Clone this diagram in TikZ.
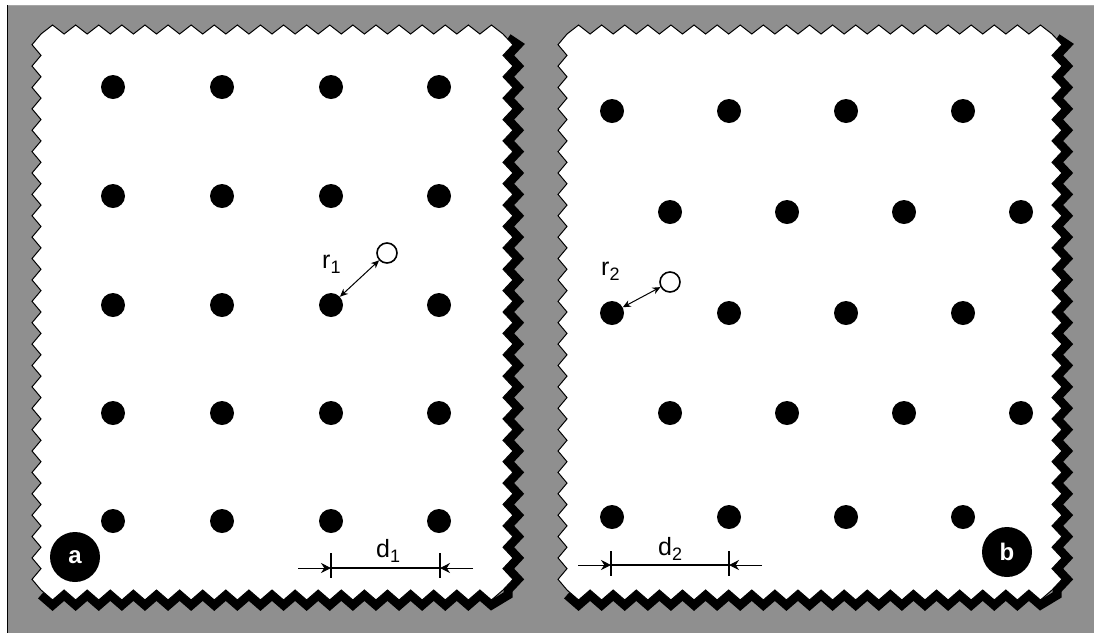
\documentclass[tikz,border=0pt]{standalone}
\usepackage{fontspec}
\setmainfont{Liberation Sans}
\usetikzlibrary{arrows.meta}
\tikzset{
  zigrect/.style n args={6}{insert path={
    (#1,#2)
    \foreach \i in {1,...,#5} { -- ({#1+(\i-0.5)*(#3-#1)/#5},{#2-9}) -- ({#1+\i*(#3-#1)/#5},#2) }
    \foreach \i in {1,...,#6} { -- ({#3+10},{#2+(\i-0.5)*(#4-#2)/#6}) -- (#3,{#2+\i*(#4-#2)/#6}) }
    \foreach \i in {1,...,#5} { -- ({#3-(\i-0.5)*(#3-#1)/#5},{#4+10}) -- ({#3-\i*(#3-#1)/#5},#4) }
    \foreach \i in {1,...,#6} { -- ({#1-9},{#4-(\i-0.5)*(#4-#2)/#6}) -- (#1,{#4-\i*(#4-#2)/#6}) }
    -- cycle}},
  zigshadow/.style n args={6}{insert path={
    ({#3+5},{#2+4})
    \foreach \i in {1,...,#6} { -- ({#3+15},{#2+(\i-0.5)*(#4-#2)/#6}) -- ({#3+5},{#2+\i*(#4-#2)/#6}) }
    -- ({#3+5},{#4+5})
    \foreach \i in {1,...,#5} { -- ({#3-(\i-0.5)*(#3-#1)/#5},{#4+15}) -- ({#3-\i*(#3-#1)/#5},{#4+5}) }
    }},
  shadowline/.style={draw=black, line width=9pt, line join=miter, miter limit=10},
  dot/.style={circle, fill=black, inner sep=0pt, minimum size=24pt},
  hole/.style={circle, draw=black, line width=1.6pt, fill=white, inner sep=0pt, minimum size=20pt},
  tag/.style={circle, fill=black, inner sep=0pt, minimum size=50pt, text=white, font=\fontsize{24}{24}\selectfont\bfseries},
  lbl/.style={inner sep=0pt, anchor=base west, font=\fontsize{25}{25}\selectfont},
  rarrow/.style={{Stealth[length=8pt,width=7pt]}-{Stealth[length=8pt,width=7pt]}, line width=1pt},
  darrow/.style={-{Stealth[length=10pt,width=10pt]}, line width=1pt},
  dimline/.style={line width=1.2pt},
}
\newcommand{\subs}[1]{\raisebox{-5pt}{\fontsize{18}{18}\selectfont #1}}
\begin{document}
\begin{tikzpicture}[x=1pt,y=-1pt]
\useasboundingbox (0,0) rectangle (1094,633);
% background
\fill[black!44] (7,5) rectangle (1094,633);
\draw[black!35, line width=1pt] (7,5.5) -- (1094,5.5);
\draw[black, line width=1.5pt] (7.5,5) -- (7.5,633);
% panel a
\path[shadowline, zigshadow={41}{34}{503}{590}{20}{26}];
\filldraw[fill=white, draw=black, line width=1pt, zigrect={41}{34}{503}{590}{20}{26}];
% panel b
\path[shadowline, zigshadow={567}{34}{1052}{590}{21}{26}];
\filldraw[fill=white, draw=black, line width=1pt, zigrect={567}{34}{1052}{590}{21}{26}];

% dots panel a
\foreach \c/\x in {1/113,2/222,3/331,4/439}
  \foreach \r/\y in {1/87,2/196,3/305,4/413,5/521}
    \node[dot] (a\r\c) at (\x,\y) {};
% dots panel b
\foreach \r/\y/\o in {1/111/0,2/212/1,3/313/0,4/413/1,5/517/0}
  \foreach \c/\x in {1/612,2/729,3/846,4/963}
    \node[dot] (b\r\c) at ({\x+\o*58},\y) {};

% interstitial holes
\node[hole] (ha) at (387,253) {};
\node[hole] (hb) at (670,282) {};
\draw[rarrow] (a33) -- (ha);
\draw[rarrow] (b31) -- (hb);
\node[lbl] (r1) at (322,268) {r\subs{1}};
\node[lbl] (r2) at (601,275) {r\subs{2}};

% dimension d1
\coordinate (d1l) at (331,568);
\coordinate (d1r) at (440,568);
\coordinate (d1lo) at (298,568);
\coordinate (d1ro) at (473,568);
\draw[dimline] (331,553) -- (331,578);
\draw[dimline] (440,553) -- (440,578);
\draw[dimline] (d1l) -- (d1r);
\draw[darrow] (d1lo) -- (d1l);
\draw[darrow] (d1ro) -- (d1r);
\node[lbl] (d1) at (376,557) {d\subs{1}};

% dimension d2
\coordinate (d2l) at (611,565);
\coordinate (d2r) at (729,565);
\coordinate (d2lo) at (578,565);
\coordinate (d2ro) at (762,565);
\draw[dimline] (611,551) -- (611,576);
\draw[dimline] (729,551) -- (729,576);
\draw[dimline] (d2l) -- (d2r);
\draw[darrow] (d2lo) -- (d2l);
\draw[darrow] (d2ro) -- (d2r);
\node[lbl] (d2) at (658,555) {d\subs{2}};

% panel tags
\node[tag] (ta) at (75,557) {a};
\node[tag] (tb) at (1007,552) {b};
\end{tikzpicture}
\end{document}
